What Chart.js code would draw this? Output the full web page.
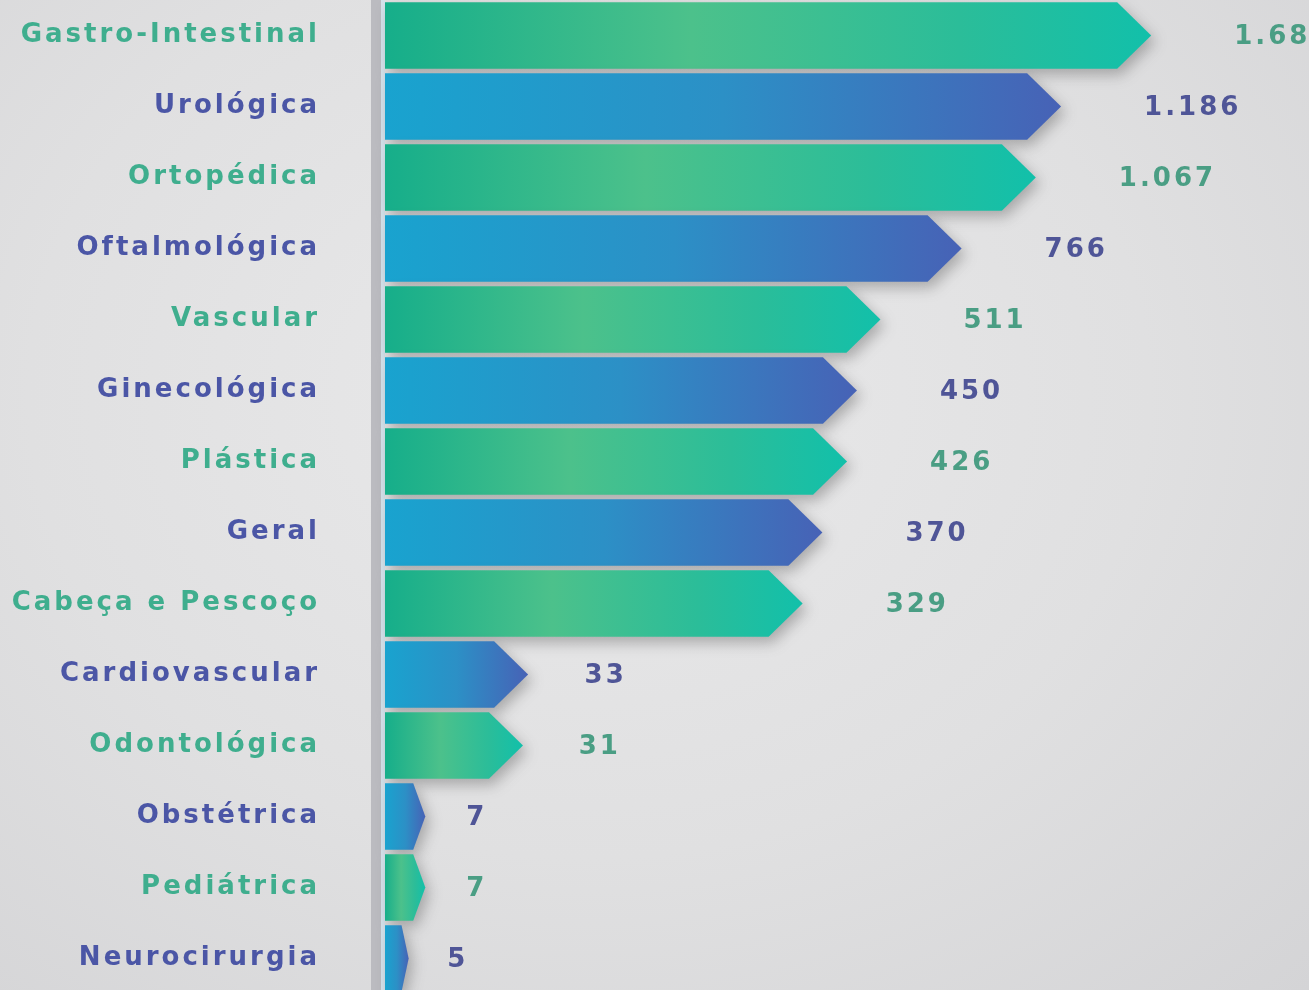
<!DOCTYPE html>
<html lang="pt">
<head>
<meta charset="utf-8">
<title>Cirurgias por especialidade</title>
<script src="https://cdn.jsdelivr.net/npm/chart.js@4/dist/chart.umd.min.js"></script>
<style>
  html, body { margin: 0; padding: 0; overflow: hidden; }
  body {
    width: 1309px; height: 990px;
    background: radial-gradient(ellipse at 45% 40%, #e9e9ea 0%, #e0e0e1 55%, #d4d4d6 100%);
  }
  #wrap { position: relative; width: 1309px; height: 994px; }
</style>
</head>
<body>
<div id="wrap"><canvas id="grafico"></canvas></div>
<script>
// Dados do gráfico
const categorias = ["Gastro-Intestinal", "Urológica", "Ortopédica", "Oftalmológica", "Vascular",
  "Ginecológica", "Plástica", "Geral", "Cabeça e Pescoço", "Cardiovascular",
  "Odontológica", "Obstétrica", "Pediátrica", "Neurocirurgia"];
const cirurgias = [1686, 1186, 1067, 766, 511, 450, 426, 370, 329, 33, 31, 7, 7, 5];

const corTextoVerde = "#3fae8e";
const corTextoAzul = "#4b56a6";

// Escala de potência (as barras do original não são lineares)
const EXPOENTE = 0.3;
class PowScale extends Chart.LinearScale {
  static id = "pow";
  static defaults = Chart.LinearScale.defaults;
  _f(v) { return Math.pow(Math.max(v, this.min), EXPOENTE); }
  getPixelForValue(v) {
    const a = this._f(this.min), b = this._f(this.max);
    return this.getPixelForDecimal((this._f(v) - a) / (b - a));
  }
  getValueForPixel(p) {
    const a = this._f(this.min), b = this._f(this.max);
    return Math.pow(a + this.getDecimalForPixel(p) * (b - a), 1 / EXPOENTE);
  }
}
Chart.register(PowScale);

const formatar = (n) => String(n).replace(/\B(?=(\d{3})+(?!\d))/g, ".");
const ehVerde = (i) => i % 2 === 0;

// Fundo e eixo vertical
const eixoPlugin = {
  id: "eixo",
  beforeDraw(chart) {
    chart.ctx.letterSpacing = "3px";
  },
  beforeDatasetsDraw(chart) {
    const { ctx, chartArea } = chart;
    ctx.save();
    ctx.fillStyle = "#bbbbc0";
    ctx.fillRect(chartArea.left - 14, 0, 10, chart.height);
    ctx.fillStyle = "#d5e3ec";
    ctx.fillRect(chartArea.left - 4, 0, 4, chart.height);
    ctx.restore();
  },
};

// Barras em forma de seta com gradiente
const setasPlugin = {
  id: "setas",
  afterDatasetsDraw(chart) {
    const { ctx } = chart;
    const meta = chart.getDatasetMeta(0);
    meta.data.forEach((bar, i) => {
      const { x, y, base, height } = bar.getProps(["x", "y", "base", "height"], true);
      const len = x - base;
      const ponta = Math.min(34, len * 0.3);
      const topo = y - height / 2, fundo = y + height / 2;

      const grad = ctx.createLinearGradient(base, 0, x, 0);
      if (ehVerde(i)) {
        grad.addColorStop(0, "#16ae8a");
        grad.addColorStop(0.4, "#4cc18b");
        grad.addColorStop(0.75, "#2bbd99");
        grad.addColorStop(1, "#12c0aa");
      } else {
        grad.addColorStop(0, "#19a3cf");
        grad.addColorStop(0.5, "#2c90c6");
        grad.addColorStop(1, "#4762b6");
      }

      ctx.save();
      ctx.shadowColor = "rgba(60,60,60,0.35)";
      ctx.shadowBlur = 14;
      ctx.shadowOffsetX = 4;
      ctx.shadowOffsetY = 6;
      ctx.beginPath();
      ctx.moveTo(base, topo);
      ctx.lineTo(x - ponta, topo);
      ctx.lineTo(x, y);
      ctx.lineTo(x - ponta, fundo);
      ctx.lineTo(base, fundo);
      ctx.closePath();
      ctx.fillStyle = grad;
      ctx.fill();
      ctx.restore();

      // valor à direita da seta
      const gap = 35 + Math.min(48, len * 0.15);
      ctx.save();
      ctx.letterSpacing = "3px";
      ctx.font = "bold 26px 'DejaVu Sans'";
      ctx.textAlign = "left";
      ctx.textBaseline = "middle";
      ctx.fillStyle = ehVerde(i) ? "#4a9e84" : "#4f5597";
      ctx.fillText(formatar(cirurgias[i]), x + gap, y + 2);
      ctx.restore();
    });
  },
};

new Chart(document.getElementById("grafico"), {
  type: "bar",
  data: {
    labels: categorias,
    datasets: [{
      data: cirurgias,
      backgroundColor: "transparent",
      borderWidth: 0,
      categoryPercentage: 1,
      barPercentage: 0.94,
    }],
  },
  options: {
    indexAxis: "y",
    responsive: true,
    maintainAspectRatio: false,
    animation: false,
    layout: { padding: 0 },
    plugins: { legend: { display: false }, tooltip: { enabled: false } },
    scales: {
      x: { type: "pow", min: 2.9, max: 2890, display: false },
      y: {
        grid: { display: false },
        border: { display: false },
        afterFit(scale) {
          scale.width = 385;
          scale.paddingTop = 0;
          scale.paddingBottom = 0;
        },
        ticks: {
          padding: 57,
          font: { family: "'DejaVu Sans'", size: 26, weight: "bold" },
          color: (c) => (ehVerde(c.index) ? corTextoVerde : corTextoAzul),
        },
      },
    },
  },
  plugins: [eixoPlugin, setasPlugin],
});
</script>
</body>
</html>
